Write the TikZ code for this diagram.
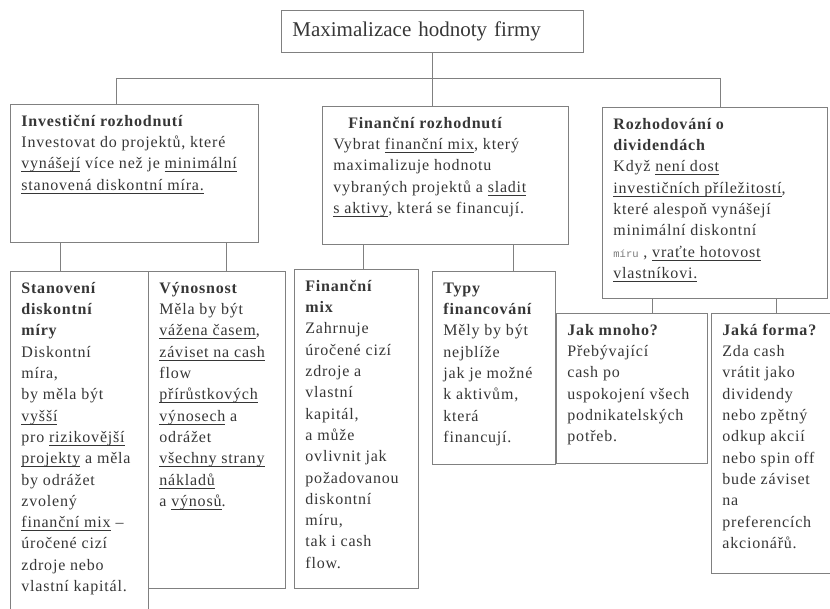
\documentclass[tikz,border=0pt]{standalone}
\usepackage{fontspec}
\setmainfont{Liberation Serif}[LetterSpace=5]
\newfontfamily\titlefont{Liberation Serif}
\setmonofont{Liberation Mono}

\definecolor{linegray}{HTML}{808080}
\definecolor{inkgray}{HTML}{363636}
\definecolor{monogray}{HTML}{7A7A7A}

% box of width #1 and height #2 (in pt), text set from the top
\newcommand{\boxtext}[3]{\parbox[t][\dimexpr#2pt-14pt\relax][t]{\dimexpr#1pt-22pt\relax}{\begin{tabular}[t]{@{}l@{}}#3\end{tabular}}}
\newcommand{\hd}[1]{\textbf{#1}}
% underlined words at a fixed depth
\newcommand{\ulword}[1]{\setbox0\hbox{#1}\rlap{\rule[-3.2pt]{\wd0}{0.7pt}}\box0\relax}

\tikzset{
  cell/.style={draw=linegray, line width=0.8pt, anchor=north west, inner xsep=11pt, inner ysep=7pt,
    text=inkgray, font=\fontsize{16}{21.3}\selectfont},
  topcell/.style={cell, text width=280pt, minimum height=42pt, align=left, font=\titlefont\fontsize{21}{25}\selectfont},
  link/.style={draw=linegray, line width=0.8pt}
}

\begin{document}
\begin{tikzpicture}[x=1pt,y=-1pt]
    \useasboundingbox (0,0) rectangle (830,609);

    \node[topcell] at (281,10)(top){Maximalizace hodnoty firmy};

    \node[cell] at (10,104)(invest){\boxtext{248}{138}{%
      \hd{Investiční rozhodnutí}\\
      Investovat do projektů, které\\
      \ulword{vynášejí} více než je \ulword{minimální}\\
      \ulword{stanovená diskontní míra.}}};
    \node[cell] at (322,106)(finance){\boxtext{246}{138}{%
      \hspace*{15pt}\hd{Finanční rozhodnutí}\\
      Vybrat \ulword{finanční mix}, který\\
      maximalizuje hodnotu\\
      vybraných projektů a \ulword{sladit}\\
      \ulword{s aktivy}, která se financují.}};
    \node[cell] at (602,107)(dividend){\boxtext{225}{191}{%
      \hd{Rozhodování o}\\
      \hd{dividendách}\\
      Když \ulword{není dost}\\
      \ulword{investičních příležitostí},\\
      které alespoň vynášejí\\
      minimální diskontní\\
      {\ttfamily\fontsize{10.5}{12}\selectfont\color{monogray}míru} , \ulword{vraťte hotovost}\\
      \ulword{vlastníkovi.}}};

    \node[cell] at (10,271)(stanov){\boxtext{138}{350}{%
      \hd{Stanovení}\\
      \hd{diskontní}\\
      \hd{míry}\\
      Diskontní\\
      míra,\\
      by měla být\\
      \ulword{vyšší}\\
      pro \ulword{rizikovější}\\
      \ulword{projekty} a měla\\
      by odrážet\\
      zvolený\\
      \ulword{finanční mix} –\\
      úročené cizí\\
      zdroje nebo\\
      vlastní kapitál.}};
    \node[cell] at (148,271)(vynos){\boxtext{137}{317}{%
      \hd{Výnosnost}\\
      Měla by být\\
      \ulword{vážena časem},\\
      \ulword{záviset na cash}\\
      flow\\
      \ulword{přírůstkových}\\
      \ulword{výnosech} a\\
      odrážet\\
      \ulword{všechny strany}\\
      \ulword{nákladů}\\
      a \ulword{výnosů}.}};
    \node[cell] at (294,269)(finmix){\boxtext{124}{319}{%
      \hd{Finanční}\\
      \hd{mix}\\
      Zahrnuje\\
      úročené cizí\\
      zdroje a\\
      vlastní\\
      kapitál,\\
      a může\\
      ovlivnit jak\\
      požadovanou\\
      diskontní\\
      míru,\\
      tak i cash\\
      flow.}};
    \node[cell] at (432,271)(typy){\boxtext{123}{193}{%
      \hd{Typy}\\
      \hd{financování}\\
      Měly by být\\
      nejblíže\\
      jak je možné\\
      k aktivům,\\
      která\\
      financují.}};
    \node[cell] at (556,313)(kolik){\boxtext{151}{150}{%
      \hd{Jak mnoho?}\\
      Přebývající\\
      cash po\\
      uspokojení všech\\
      podnikatelských\\
      potřeb.}};
    \node[cell] at (711,313)(forma){\boxtext{130}{260}{%
      \hd{Jaká forma?}\\
      Zda cash\\
      vrátit jako\\
      dividendy\\
      nebo zpětný\\
      odkup akcií\\
      nebo spin off\\
      bude záviset\\
      na\\
      preferencích\\
      akcionářů.}};

    % branch points
    \coordinate (hl) at (116,78);
    \coordinate (hr) at (720,78);
    \coordinate (d1) at (60,0);
    \coordinate (d2) at (226,0);
    \coordinate (d3) at (363,0);
    \coordinate (d4) at (513,0);
    \coordinate (d5) at (652,0);
    \coordinate (d6) at (776,0);

    \path[link]
        (top.south)edge(top.south |- finance.north)
        (hl)edge(hr)
        (hl)edge(hl |- invest.north)
        (hr)edge(hr |- dividend.north)
        (invest.south -| d1)edge(stanov.north -| d1)
        (invest.south -| d2)edge(vynos.north -| d2)
        (finance.south -| d3)edge(finmix.north -| d3)
        (finance.south -| d4)edge(typy.north -| d4)
        (dividend.south -| d5)edge(kolik.north -| d5)
        (dividend.south -| d6)edge(forma.north -| d6)
        ;
\end{tikzpicture}
\end{document}
